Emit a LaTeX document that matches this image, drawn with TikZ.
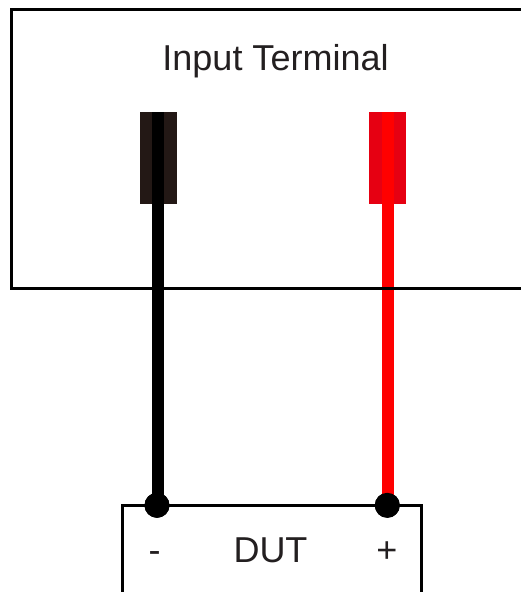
\documentclass[tikz,border=0pt]{standalone}
\usepackage{fontspec}
\setmainfont{Liberation Sans}
\definecolor{ink}{HTML}{231F20}
\definecolor{termblack}{HTML}{231815}
\definecolor{termred}{HTML}{E60012}
\tikzset{
  x=1pt,y=-1pt,
  outline/.style={draw=black,line width=3pt,line join=miter},
  terminal/.style={minimum width=36.6pt,minimum height=91.8pt,inner sep=0pt,outer sep=0pt},
  lead/.style={line width=12pt},
  post/.style={minimum width=12pt,minimum height=91.8pt,inner sep=0pt,outer sep=0pt},
  dot/.style={circle,fill=black,minimum size=25pt,inner sep=0pt,outer sep=0pt},
  label/.style={text=ink,inner sep=0pt,anchor=base,font=\fontsize{36}{42}\selectfont},
}
\begin{document}
\begin{tikzpicture}
\useasboundingbox (0,0) rectangle (521,592);
\coordinate (boxTR) at (521,9);
\coordinate (boxTL) at (11,9);
\coordinate (boxBL) at (11,288);
\coordinate (boxBR) at (521,288);
\coordinate (dutBL) at (122,592);
\coordinate (dutTL) at (122,505);
\coordinate (dutTR) at (421.7,505);
\coordinate (dutBR) at (421.7,592);
\node[terminal,fill=termblack] (tneg) at (158.3,158.2) {};
\node[terminal,fill=termred] (tpos) at (387.2,158.2) {};
\node[post,fill=black] (pneg) at (158,158.2) {};
\node[post,fill=red] (ppos) at (387.7,158.2) {};
\node[dot] (dneg) at (157,505.3) {};
\node[dot] (dpos) at (387.3,505.3) {};
\draw[lead,black] (pneg.south) -- (pneg.south |- dneg.center);
\draw[lead,red] (ppos.south) -- (ppos.south |- dpos.center);
\draw[outline] (boxTR) -- (boxTL) -- (boxBL) -- (boxBR);
\draw[outline] (dutBL) -- (dutTL) -- (dutTR) -- (dutBR);
\node[dot] at (dneg.center) {};
\node[dot] at (dpos.center) {};
\node[label] (title) at (275.5,70) {Input Terminal};
\node[label] (dut) at (270.5,562) {DUT};
\node[label] (minus) at (154.5,562) {-};
\node[label] (plus) at (387,562) {+};
\end{tikzpicture}
\end{document}
